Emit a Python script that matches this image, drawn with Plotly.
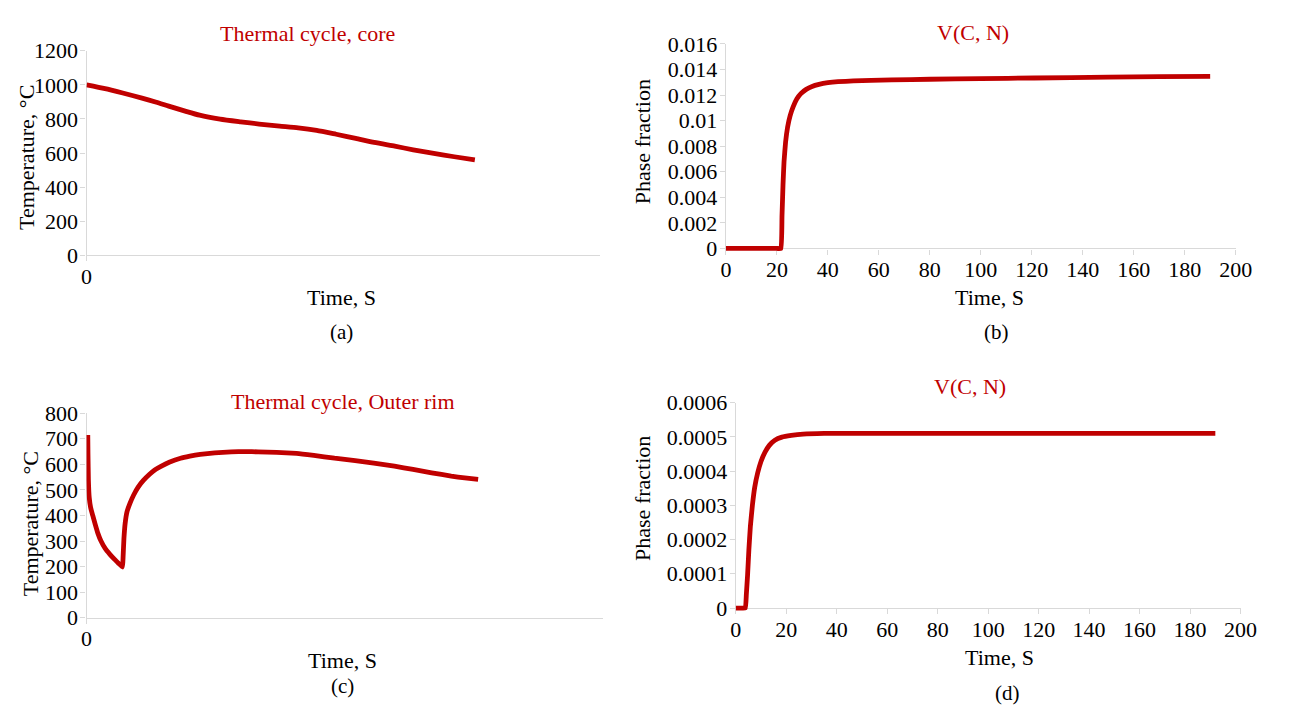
import plotly.graph_objects as go

W, H = 1289, 713

# ---------------- data ----------------
# (a) Thermal cycle, core
core_t = [0, 9, 17.6, 27, 34, 40, 48, 55, 65, 75, 84, 94, 103, 112, 121.5, 131, 140, 150, 159, 169, 179, 189]
core_T = [1000, 978, 952, 922, 898, 875, 846, 822, 799, 783, 770, 758, 748, 733, 710, 686, 662, 640, 619, 598, 578, 560]

# (b) V(C, N) - core
vb_t = [0, 10, 20, 21.6, 22.0, 22.4, 22.8, 23.4, 24.2, 25.2, 26.4, 27.8, 29.4, 31.5, 33.8, 36.5, 40, 44, 50, 57, 65, 80, 100, 121, 150, 170, 190]
vb_v = [0, 0, 0, 0, 0.0025, 0.0050, 0.0068, 0.0083, 0.0095, 0.0104, 0.0111, 0.0117, 0.01212, 0.01245, 0.01268, 0.01284, 0.01297, 0.01305, 0.01311, 0.01316, 0.01319, 0.01324, 0.01329, 0.01334, 0.0134, 0.01344, 0.01347]

# (c) Thermal cycle, Outer rim
rim_t = [0.6, 0.7, 0.9, 1.3, 2.0, 3.0, 4.2, 5.5, 7.0, 9.0, 11.3, 13.7, 15.6, 17.4, 17.7, 18.1, 18.7, 19.6, 21, 22.8, 24.9, 27.5, 30.5, 33, 36, 40, 45.5, 50, 55, 62, 70, 77, 83, 92, 101.6, 110, 120, 130, 139, 149, 158, 167, 176.5, 183, 189.5]
rim_T = [715, 640, 540, 470, 430, 400, 365, 330, 300, 271, 248, 227, 212, 198, 240, 310, 370, 415, 447, 480, 510, 537, 561, 578, 592, 608, 624, 632, 639, 645, 649, 650, 649, 647, 643, 635, 624, 615, 605, 593, 580, 567, 554, 547, 541]

# (d) V(C, N) - outer rim
vd_t = [0, 2, 3.8, 4.2, 4.7, 5.2, 5.8, 6.6, 7.5, 8.7, 10, 11.6, 13.3, 15.5, 18.3, 22, 26.7, 35, 50, 80, 120, 160, 190]
vd_v = [0, 0, 0, 0.00004, 0.0000973, 0.00017, 0.000239, 0.0003, 0.000352, 0.000395, 0.000428, 0.000455, 0.000475, 0.00049, 0.000499, 0.000504, 0.000508, 0.00051, 0.00051, 0.00051, 0.00051, 0.00051, 0.00051]

temp_a_ticks = [0, 200, 400, 600, 800, 1000, 1200]
temp_c_ticks = [0, 100, 200, 300, 400, 500, 600, 700, 800]
frac_b_ticks = [0, 0.002, 0.004, 0.006, 0.008, 0.01, 0.012, 0.014, 0.016]
frac_b_text = ["0", "0.002", "0.004", "0.006", "0.008", "0.01", "0.012", "0.014", "0.016"]
frac_d_ticks = [0, 0.0001, 0.0002, 0.0003, 0.0004, 0.0005, 0.0006]
frac_d_text = ["0", "0.0001", "0.0002", "0.0003", "0.0004", "0.0005", "0.0006"]
time_ticks = [0, 20, 40, 60, 80, 100, 120, 140, 160, 180, 200]

# ---------------- style ----------------
RED = "#c00000"
AXC = "#d9d9d9"
FONT = "Liberation Serif"
TICKF = dict(family=FONT, size=22, color="#000000")


def px(x):
    return x / W


def py(y):
    return 1 - y / H


fig = go.Figure()

# panel pixel boxes: left, right, top(y at max), bottom(y at 0)
panels = {
    "a": dict(l=82, r=605, t=40, b=251),
    "b": dict(l=733, r=1252, t=33, b=244),
    "c": dict(l=82, r=608, t=414, b=625),
    "d": dict(l=743, r=1257, t=403, b=615),
}

PAD = 3  # px of padding below zero so the thick line is not clipped


def add_axes(idx, p, yrange_top, ytickvals, yticktext, xrange, xtickvals, xticktext):
    sfx = "" if idx == 1 else str(idx)
    span = p["b"] - p["t"]
    ypad = yrange_top * PAD / span
    fig.update_layout(**{
        f"xaxis{sfx}": dict(
            domain=[px(p["l"]), px(p["r"])],
            range=xrange, anchor="free", position=py(p["b"]),
            showline=True, linecolor=AXC, linewidth=1.3,
            ticks="outside", ticklen=5, tickcolor=AXC, tickwidth=1.3,
            tickvals=xtickvals, ticktext=xticktext, layer="below traces",
            ticklabelstandoff=-4,
            showgrid=False, zeroline=False, tickfont=TICKF,
        ),
        f"yaxis{sfx}": dict(
            domain=[py(p["b"] + PAD), py(p["t"])],
            range=[-ypad, yrange_top], anchor=f"x{sfx}",
            showline=True, linecolor=AXC, linewidth=1.3,
            ticks="outside", ticklen=5, tickcolor=AXC, tickwidth=1.3,
            tickvals=ytickvals, ticktext=yticktext, layer="below traces",
            ticklabelstandoff=-2,
            showgrid=False, zeroline=False, tickfont=TICKF,
        ),
    })


add_axes(1, panels["a"], 1200, temp_a_ticks, [str(v) for v in temp_a_ticks], [0, 250], [0], ["0"])
add_axes(2, panels["b"], 0.016, frac_b_ticks, frac_b_text, [0, 200], time_ticks, [str(v) for v in time_ticks])
add_axes(3, panels["c"], 800, temp_c_ticks, [str(v) for v in temp_c_ticks], [0, 250], [0], ["0"])
add_axes(4, panels["d"], 0.0006, frac_d_ticks, frac_d_text, [0, 200], time_ticks, [str(v) for v in time_ticks])

LW = 4.8
fig.add_trace(go.Scatter(x=core_t, y=core_T, mode="lines",
                         line=dict(color=RED, width=LW, shape="spline", smoothing=0.6),
                         xaxis="x", yaxis="y", showlegend=False))
fig.add_trace(go.Scatter(x=vb_t, y=vb_v, mode="lines",
                         line=dict(color=RED, width=LW, shape="spline", smoothing=0.3),
                         xaxis="x2", yaxis="y2", showlegend=False))
fig.add_trace(go.Scatter(x=rim_t, y=rim_T, mode="lines",
                         line=dict(color=RED, width=LW, shape="spline", smoothing=0.3),
                         xaxis="x3", yaxis="y3", showlegend=False))
fig.add_trace(go.Scatter(x=vd_t, y=vd_v, mode="lines",
                         line=dict(color=RED, width=LW, shape="spline", smoothing=0.3),
                         xaxis="x4", yaxis="y4", showlegend=False))

anns = []


def ann(text, x, y, size=22, color="#000000", angle=0):
    anns.append(dict(text=text, x=px(x), y=py(y), xref="paper", yref="paper",
                     xanchor="center", yanchor="middle", showarrow=False,
                     textangle=angle, font=dict(family=FONT, size=size, color=color)))


# titles
ann("Thermal cycle, core", 307, 22, color=RED)
ann("V(C, N)", 985, 21, color=RED)
ann("Thermal cycle, Outer rim", 343, 402, color=RED)
ann("V(C, N)", 982, 386, color=RED)
# y axis titles
ann("Temperature, °C", 21, 150, angle=-90)
ann("Phase fraction", 648, 134, angle=-90)
ann("Temperature, °C", 25, 528, angle=-90)
ann("Phase fraction", 648, 502, angle=-90)
# x axis titles
ann("Time, S", 342, 295)
ann("Time, S", 1001, 295)
ann("Time, S", 343, 669)
ann("Time, S", 1012, 666)
# panel labels
ann("(a)", 342, 330, size=21)
ann("(b)", 1009, 330, size=21)
ann("(c)", 343, 695, size=21)
ann("(d)", 1020, 703, size=21)

fig.update_layout(
    width=W, height=H,
    margin=dict(l=0, r=0, t=0, b=0),
    paper_bgcolor="white", plot_bgcolor="white",
    annotations=anns,
    font=dict(family=FONT),
)

fig.write_html("out.html")
